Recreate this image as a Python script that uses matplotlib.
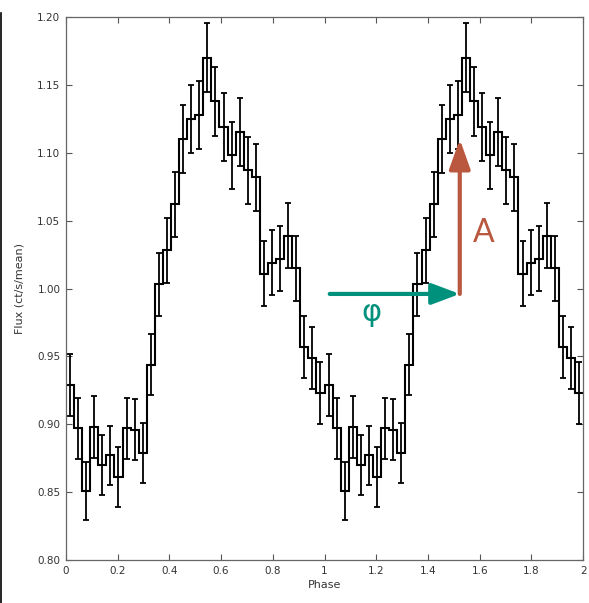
import matplotlib
matplotlib.use("Agg")
import matplotlib.pyplot as plt
import numpy as np
from matplotlib.lines import Line2D

# pulse profile, 32 bins per cycle (shown twice)
flux = [0.929, 0.897, 0.851, 0.898, 0.870, 0.877, 0.861, 0.897,
        0.896, 0.879, 0.944, 1.003, 1.028, 1.062, 1.110, 1.125,
        1.128, 1.170, 1.138, 1.119, 1.098, 1.115, 1.087, 1.082,
        1.011, 1.019, 1.022, 1.039, 1.015, 0.957, 0.949, 0.923]
flux_err = [0.023, 0.0225, 0.0215, 0.0225, 0.022, 0.022, 0.022, 0.0225,
            0.0225, 0.022, 0.0225, 0.0233, 0.024, 0.024, 0.025, 0.025,
            0.025, 0.0255, 0.0255, 0.025, 0.0245, 0.025, 0.0246, 0.0248,
            0.0242, 0.024, 0.0242, 0.0242, 0.024, 0.023, 0.023, 0.0227]
n_cycles = 2

# annotation positions (phase, flux)
phi_start = (1.02, 0.996)
phi_end = (1.523, 0.996)
amp_end = (1.523, 1.110)

teal = "#00917c"
rust = "#b9573f"
txt = "#333333"

y = np.tile(flux, n_cycles)
yerr = np.tile(flux_err, n_cycles)
nb = len(y)
edges = np.linspace(0, n_cycles, nb + 1)
centers = 0.5 * (edges[:-1] + edges[1:])

fig = plt.figure(figsize=(5.89, 6.03), dpi=100)
ax = fig.add_axes([0.112, 0.0713, 0.878, 0.9005])

ax.stairs(y, edges, baseline=None, color="black", lw=1.5)
ax.errorbar(centers, y, yerr=yerr, fmt="none", ecolor="black",
            elinewidth=1.3, capsize=2, capthick=1.3)

ax.annotate("", xy=phi_end, xytext=phi_start,
            arrowprops=dict(arrowstyle="-|>,head_length=0.85,head_width=0.32",
                            lw=3, color=teal, shrinkA=0, shrinkB=0,
                            mutation_scale=20))
ax.annotate("", xy=amp_end, xytext=phi_end,
            arrowprops=dict(arrowstyle="-|>,head_length=0.9,head_width=0.32",
                            lw=3, color=rust, shrinkA=0, shrinkB=0,
                            mutation_scale=20))
ax.text(1.616, 1.041, "A", color=rust, fontsize=23, family="Lato",
        ha="center", va="center")
ax.text(1.18, 0.982, "φ", color=teal, fontsize=22, family="DejaVu Sans",
        ha="center", va="center")

ax.set_xlim(0, 2)
ax.set_ylim(0.80, 1.20)
ax.set_xticks(np.arange(0, 2.01, 0.2))
ax.set_xticklabels(["0", "0.2", "0.4", "0.6", "0.8", "1",
                    "1.2", "1.4", "1.6", "1.8", "2"])
ax.set_yticks(np.arange(0.80, 1.201, 0.05))
ax.set_yticklabels(["%.2f" % v for v in np.arange(0.80, 1.201, 0.05)])
ax.tick_params(direction="in", top=True, right=True, length=4, width=0.8,
               labelsize=7.5, labelcolor=txt, color="#555555", pad=4)
for s in ax.spines.values():
    s.set_color("#666666")
    s.set_linewidth(0.9)

ax.set_xlabel("Phase", fontsize=8, color=txt, labelpad=3)
ax.set_ylabel("Flux (ct/s/mean)", fontsize=8, color=txt, labelpad=9)

# dark border line on the left edge of the image
fig.add_artist(Line2D([0.002, 0.002], [0.0, 0.978], color="black", lw=1.2,
                      transform=fig.transFigure))

fig.savefig("out.png", dpi=100)
